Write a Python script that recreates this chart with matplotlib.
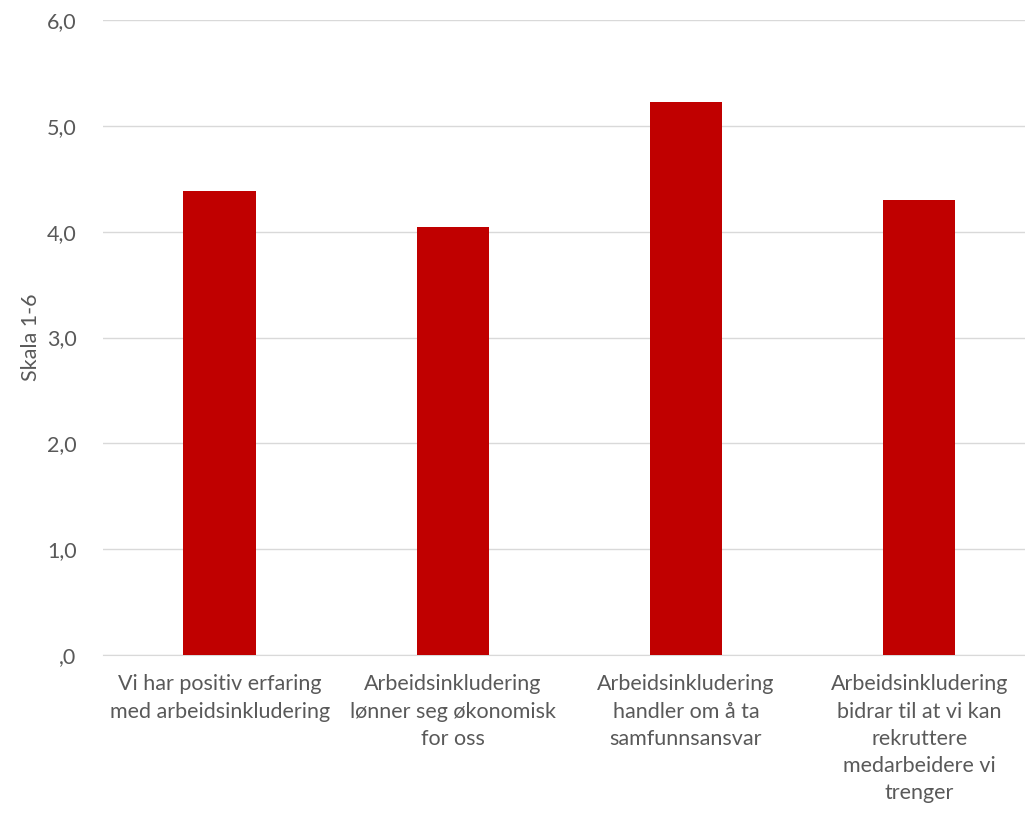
import matplotlib
matplotlib.use("Agg")
import matplotlib.pyplot as plt
from matplotlib.ticker import FuncFormatter

plt.rcParams['font.family'] = ['Lato', 'DejaVu Sans']

categories = [
    "Vi har positiv erfaring\nmed arbeidsinkludering",
    "Arbeidsinkludering\nlønner seg økonomisk\nfor oss",
    "Arbeidsinkludering\nhandler om å ta\nsamfunnsansvar",
    "Arbeidsinkludering\nbidrar til at vi kan\nrekruttere\nmedarbeidere vi\ntrenger",
]
values = [4.38, 4.04, 5.23, 4.30]
yticks = [0, 1, 2, 3, 4, 5, 6]

grey = '#595959'

fig = plt.figure(figsize=(10.25, 8.14), dpi=100)
ax = fig.add_axes([0.1005, 0.1953, 0.91, 0.7801])

x = list(range(len(categories)))
ax.bar(x, values, width=0.31, color='#C00000', zorder=3)

ax.set_xlim(-0.5, 3.5)
ax.set_ylim(0, 6)
ax.set_yticks(yticks)

def fmt(v, pos):
    s = f"{v:.1f}".replace('.', ',')
    return ',0' if v == 0 else s

ax.yaxis.set_major_formatter(FuncFormatter(fmt))
ax.grid(axis='y', color='#D9D9D9', linewidth=1, zorder=0)
ax.set_xticks(x)
ax.set_xticklabels(categories, fontsize=15.5, color=grey, linespacing=1.45)
ax.tick_params(axis='y', labelsize=15.5, colors=grey, length=0, pad=19)
ax.tick_params(axis='x', length=0, pad=14)

for s in ['top', 'right', 'left']:
    ax.spines[s].set_visible(False)
ax.spines['bottom'].set_color('#D9D9D9')
fig.text(31 / 1025, 1 - 337 / 814, 'Skala 1-6', fontsize=15.5, color=grey,
         rotation=90, ha='center', va='center')

fig.savefig('out.png', dpi=100)
